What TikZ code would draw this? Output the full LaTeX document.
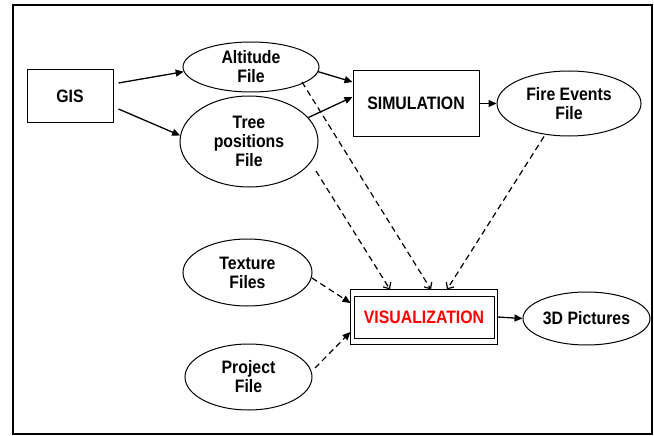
\documentclass[tikz,border=0pt]{standalone}
\usepackage{fontspec}
\setmainfont{Liberation Sans}[FakeStretch=0.88]
\usetikzlibrary{shapes.geometric,arrows.meta,calc}
\begin{document}
\begin{tikzpicture}[x=1pt,y=-1pt,
  every node/.style={font=\fontsize{18}{19}\selectfont\bfseries, align=center, inner sep=0pt},
  boxnode/.style={draw, line width=1pt, rectangle},
  ellnode/.style={draw, line width=1pt, ellipse},
  flow/.style={line width=1.3pt, -{Triangle[length=8pt,width=7pt]}},
  dflow/.style={line width=1.2pt, dash pattern=on 6pt off 4pt, -{Triangle[length=8pt,width=7pt]}},
  dbarb/.style={line width=1.2pt, dash pattern=on 6pt off 4pt, -{Straight Barb[length=5pt,width=9pt]}},
]
\useasboundingbox (0,0) rectangle (654,436);
\draw[line width=2pt] (13,5) rectangle (652,434);

\node[boxnode, minimum width=86pt, minimum height=53pt] (gis) at (70,96.5) {GIS};
\node[ellnode, minimum width=136pt, minimum height=50pt] (alt) at (251,67) {Altitude\\File};
\node[ellnode, minimum width=138pt, minimum height=91pt] (tree) at (249,141.5) {Tree\\positions\\File};
\node[boxnode, minimum width=126pt, minimum height=65pt] (sim) at (416,103.5) {SIMULATION};
\node[ellnode, minimum width=144pt, minimum height=65pt] (fire) at (569,103.5) {Fire Events\\File};
\node[ellnode, minimum width=129pt, minimum height=67pt] (tex) at (247.5,272.5) {Texture\\Files};
\node[ellnode, minimum width=127pt, minimum height=66pt] (proj) at (248.5,377) {Project\\File};
\node[boxnode, minimum width=140pt, minimum height=42pt, text=red] (vis) at (424,317) {VISUALIZATION};
\draw[line width=1.3pt] ([shift={(-3pt,6pt)}]vis.north west) rectangle ([shift={(3pt,-6pt)}]vis.south east);
\node[ellnode, minimum width=127pt, minimum height=53pt] (pics) at (586.5,318.5) {3D Pictures};

% solid connectors
\draw[flow] ([shift={(5pt,13.5pt)}]gis.east) -- (alt.184);
\draw[flow] ([shift={(5pt,-12.5pt)}]gis.east) -- (tree.175);
\draw[flow] (alt.-4) -- ([yshift=21.5pt]sim.west);
\draw[flow] (tree.22) -- ([yshift=6.5pt]sim.west);
\draw[flow] (sim.east) -- (fire.west);
\draw[flow] ([xshift=3pt]vis.east) -- (pics.west);

% dashed connectors
\draw[dbarb] ([shift={(51pt,-15pt)}]alt.center) -- ([shift={(7pt,6pt)}]vis.north);
\draw[dbarb] ([shift={(67pt,-29.5pt)}]tree.center) -- ([shift={(-34pt,6pt)}]vis.north);
\draw[dbarb] ([xshift=-25pt]fire.south) -- ([shift={(23pt,6pt)}]vis.north);
\draw[dflow] ([shift={(64.5pt,-5.5pt)}]tex.center) -- ([shift={(-3pt,14pt)}]vis.west);
\draw[dflow] ([shift={(66.5pt,9pt)}]proj.center) -- ([shift={(-3pt,-15pt)}]vis.west);
\end{tikzpicture}
\end{document}
